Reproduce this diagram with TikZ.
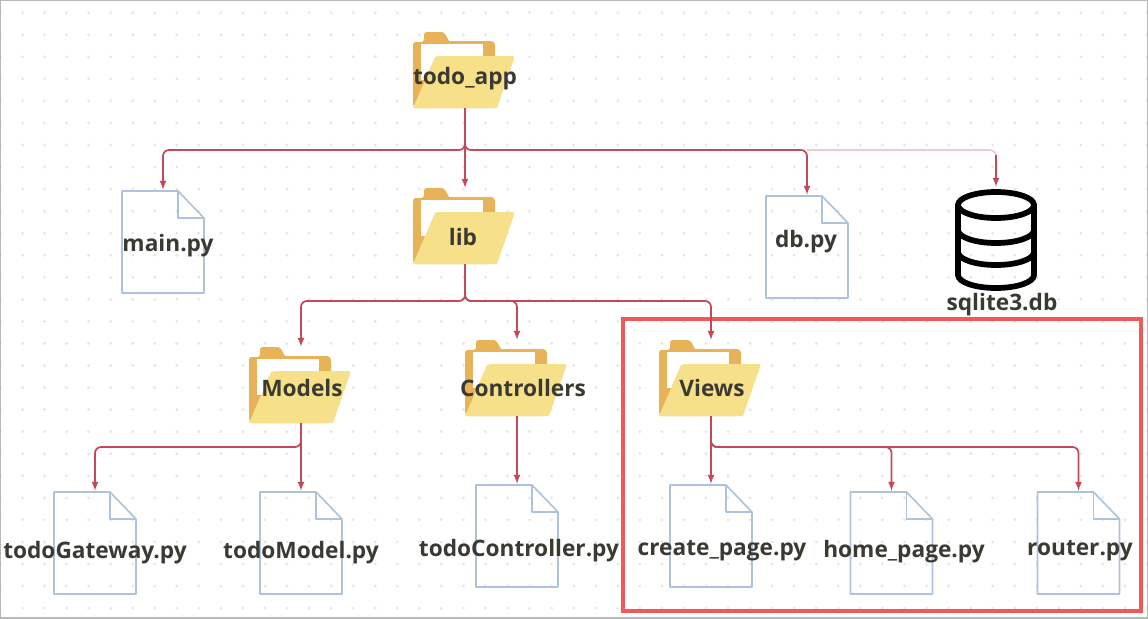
\documentclass[tikz,border=0pt]{standalone}
\usepackage{fontspec}
\setmainfont{Open Sans}
\usetikzlibrary{arrows,positioning,calc}

\definecolor{linkred}{HTML}{C2485A}
\definecolor{linkpale}{HTML}{F2C9CE}
\definecolor{boxred}{HTML}{EC5A5A}
\definecolor{fileblue}{HTML}{AEC2DB}
\definecolor{folderback}{HTML}{E8B258}
\definecolor{folderfront}{HTML}{F6E08A}
\definecolor{griddot}{HTML}{E4E7EA}
\definecolor{labelgrey}{HTML}{3B3A32}
\definecolor{edgegrey}{HTML}{B8B8B8}

\tikzset{
  folder/.style={minimum width=104*0.75pt, minimum height=76*0.75pt, inner sep=0pt,
    path picture={
      \fill[folderback] (-52,38) -- (-52,-24) [rounded corners=2pt] -- (-52,-28) -- (-41,-28) -- (-41,-38) -- (-21,-38) [sharp corners] -- (-16,-29) -- (26,-29) [rounded corners=3pt] -- (30,-29) -- (30,-14) -- (30,38) -- cycle;
      \fill[white] (-44,-26) rectangle (18,10);
      \fill[folderfront] (-30,-13) [rounded corners=2pt] -- (-27,-14) -- (50,-14) [sharp corners] -- (32,38) -- (-52,38) -- cycle;
    }},
  pyfile/.style={minimum width=84*0.75pt, minimum height=104*0.75pt, inner sep=0pt,
    path picture={
      \draw[fileblue, line width=1.2pt, line join=round] (-41,-51) -- (15,-51) -- (41,-24) -- (41,51) -- (-41,51) -- cycle;
      \draw[fileblue, line width=1.2pt, line join=round] (15,-51) -- (15,-24) -- (41,-24);
    }},
  dbicon/.style={minimum width=84*0.75pt, minimum height=104*0.75pt, inner sep=0pt,
    path picture={
      \draw[black, line width=4.3pt] (0,-34) ellipse [x radius=38, y radius=13];
      \draw[black, line width=4.3pt, line cap=round] (-38,-34) -- (-38,36) (38,-34) -- (38,36);
      \foreach \y in {-9,13,36} {
        \draw[black, line width=4.3pt] (-38,\y) arc [start angle=180, end angle=0, x radius=38, y radius=13];
      }
    }},
  filelabel/.style={font=\bfseries\fontsize{17}{19}\selectfont, text=labelgrey, inner sep=0pt},
  link/.style={->, >=latex, linkred, line width=1.3pt, rounded corners=4.5pt},
}

\begin{document}
\begin{tikzpicture}[x=0.75pt, y=-0.75pt]
\useasboundingbox (0,0) rectangle (1148,618);
\fill[white] (0,0) rectangle (1148,618);

% dotted canvas
\foreach \i in {0,...,52} {
  \foreach \j in {0,...,27} {
    \fill[griddot] ({0.4+22.05*\i},{12.7+22.05*\j}) circle (1.6);
  }
}
\draw[edgegrey, line width=1.5pt] (0,0) rectangle (1148,618);

% the highlighted part
\node[draw=boxred, line width=3pt, minimum width=518*0.75pt, minimum height=292*0.75pt, inner sep=0pt] (viewsbox) at (882,465) {};

% folders
\node[folder] (app) at (465,70) {};
\node[folder] (lib) at (465,226) {};
\node[folder] (models) at (301,385) {};
\node[folder] (controllers) at (517,378) {};
\node[folder] (views) at (711,378) {};

% files
\node[pyfile] (main) at (163,242) {};
\node[pyfile] (dbpy) at (807,247) {};
\node[dbicon] (sqlite) at (996,239) {};
\node[pyfile] (gateway) at (95,543) {};
\node[pyfile] (model) at (301,543) {};
\node[pyfile] (controller) at (517,536) {};
\node[pyfile] (create) at (711,536) {};
\node[pyfile] (home) at (891.5,543) {};
\node[pyfile] (router) at (1078.5,543) {};

% branch points
\coordinate (appbus) at (app.south |- 0,150);
\coordinate (libbus) at (lib.south |- 0,301);
\coordinate (modelsbus) at (models.south |- 0,447);
\coordinate (viewsbus) at (views.south |- 0,447);
\coordinate (sqliteturn) at (sqlite.north |- 0,150);
\coordinate (dbturn) at (dbpy.north |- 0,150);
\coordinate (sqlitedrop) at (sqlite.north |- 0,155);

% connectors
\draw[link, linkpale, -] (dbturn) -- (sqliteturn) -- (sqlitedrop);
\draw[link] (app.south) -- (appbus) -| (main.north);
\draw[link] (app.south) -- (lib.north);
\draw[link] (app.south) -- (appbus) -| (dbpy.north);
\draw[link] (sqlitedrop) -- (sqlite.north);
\draw[link] (lib.south) -- (libbus) -| (models.north);
\draw[link] (lib.south) -- (libbus) -| (controllers.north);
\draw[link] (lib.south) -- (libbus) -| (views.north);
\draw[link] (models.south) -- (modelsbus) -| (gateway.north);
\draw[link] (models.south) -- (model.north);
\draw[link] (controllers.south) -- (controller.north);
\draw[link] (views.south) -- (create.north);
\draw[link] (views.south) -- (viewsbus) -| (home.north);
\draw[link] (views.south) -- (viewsbus) -| (router.north);

% labels
\node[filelabel] (applabel) at (465,79) {todo\_app};
\node[filelabel] (liblabel) at (463,237) {lib};
\node[filelabel] (modelslabel) at (302,388) {Models};
\node[filelabel] (controllerslabel) at (523,388) {Controllers};
\node[filelabel] (viewslabel) at (712,388) {Views};
\node[filelabel] (mainlabel) at (168,246) {main.py};
\node[filelabel] (dbpylabel) at (806,242) {db.py};
\node[filelabel] (sqlitelabel) at (1002,305) {sqlite3.db};
\node[filelabel] (gatewaylabel) at (95,553) {todoGateway.py};
\node[filelabel] (modellabel) at (301,553) {todoModel.py};
\node[filelabel] (controllerlabel) at (519,551) {todoController.py};
\node[filelabel] (createlabel) at (722,551) {create\_page.py};
\node[filelabel] (homelabel) at (904,552) {home\_page.py};
\node[filelabel] (routerlabel) at (1080,551) {router.py};
\end{tikzpicture}
\end{document}
